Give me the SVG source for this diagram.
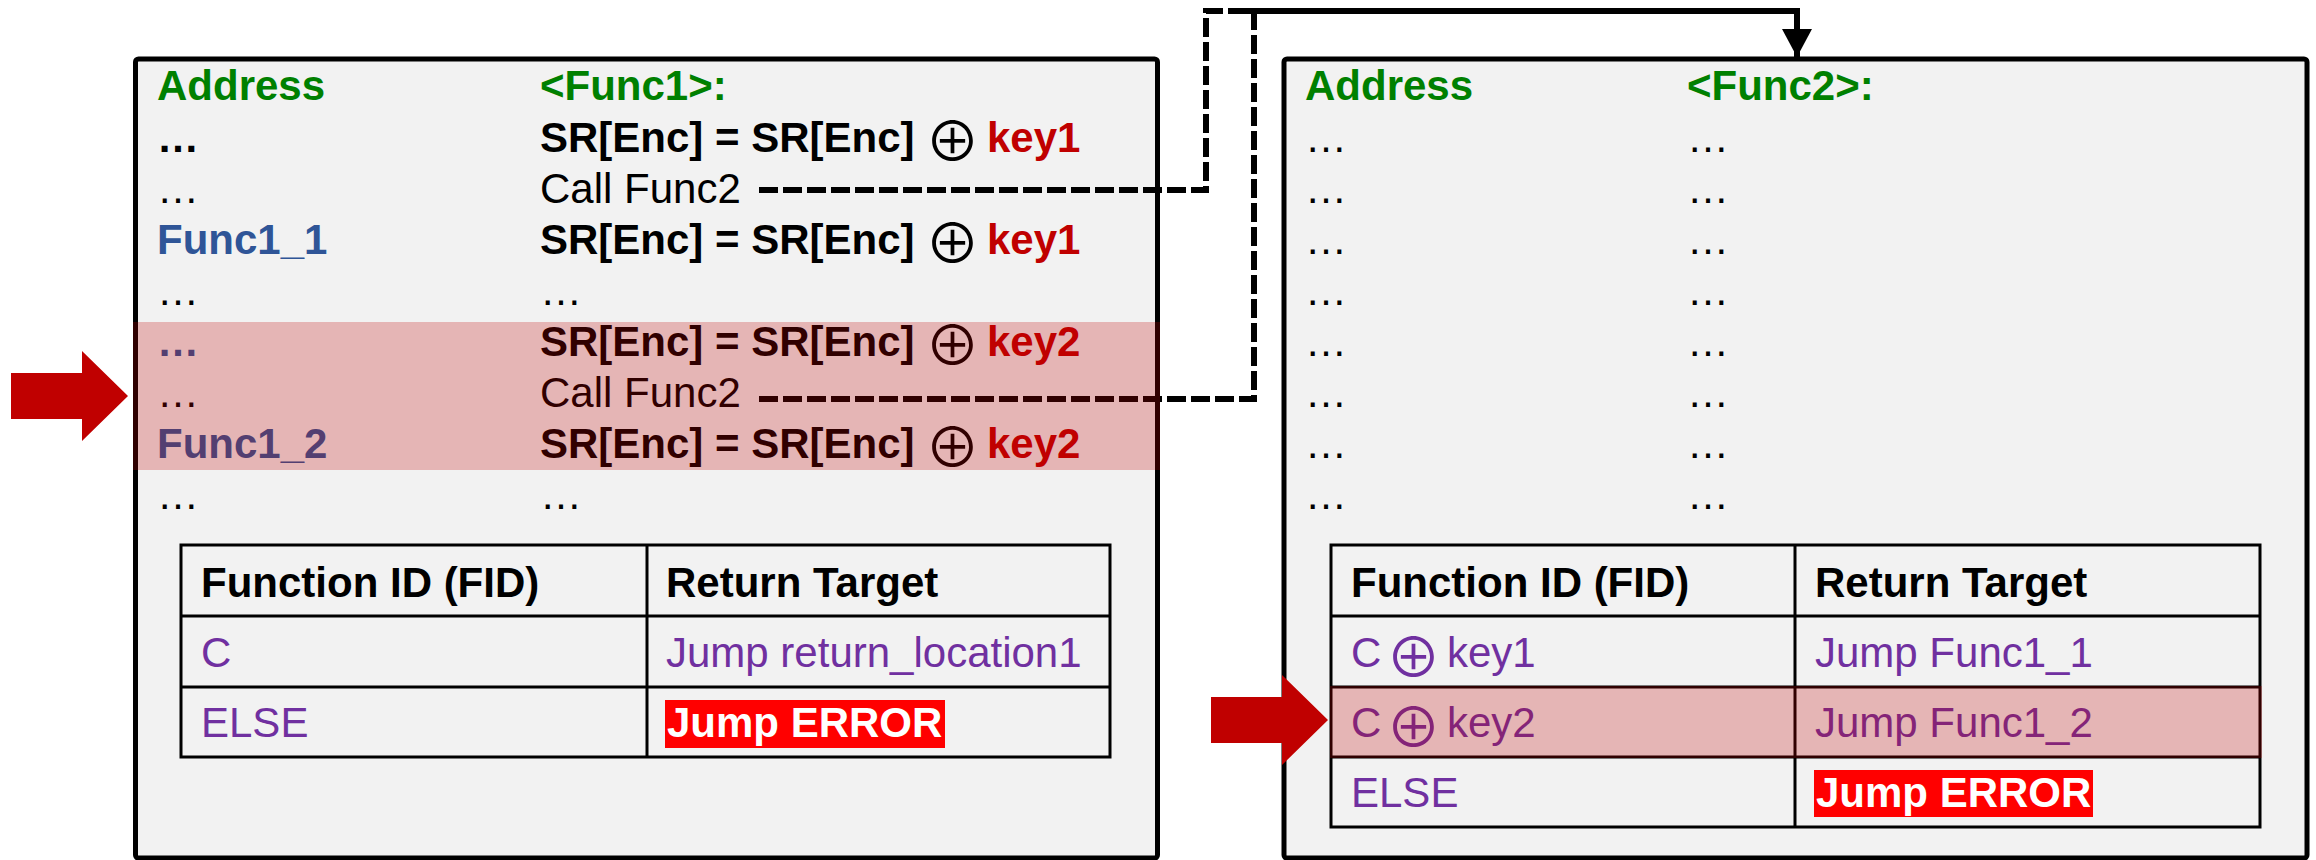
<svg xmlns="http://www.w3.org/2000/svg" width="2316" height="860" viewBox="0 0 2316 860">
<style>
.box{fill:#F2F2F2;stroke:#000;stroke-width:5}
.t{font-family:"Liberation Sans",Arial,sans-serif;font-size:42px;fill:#000}
.b{font-weight:bold}
.g{fill:#008000}
.k{fill:#C00000}
.bl{fill:#2F5597}
.p{fill:#7030A0}
.w{fill:#FFFFFF}
.op{font-family:"Noto Sans CJK JP","DejaVu Sans",sans-serif;font-size:55px;font-weight:normal}
.hl{fill:#C00000;fill-opacity:0.25}
.tl{stroke:#000;stroke-width:3;fill:none}
.dash{stroke:#000;stroke-width:6;fill:none;stroke-dasharray:19 5}
.solid{stroke:#000;stroke-width:6;fill:none}
.err{fill:#FF0000}
.arrow{fill:#C00000}
</style>
<defs>
<marker id="ah" viewBox="0 0 28 30" refX="28" refY="15" markerWidth="28" markerHeight="30" markerUnits="userSpaceOnUse" orient="auto">
<path d="M0,0 L28,15 L0,30 z" fill="#000"/>
</marker>
</defs>
<rect width="2316" height="860" fill="#FFFFFF"/>

<g id="func1">
<rect class="box" x="135.5" y="59" width="1022" height="799" rx="3"/>
<text class="t b g" x="157" y="100">Address</text>
<text class="t b g" x="540" y="100">&lt;Func1&gt;:</text>
<text class="t b" x="157" y="152">…</text>
<text class="t b" x="540" y="152">SR[Enc] = SR[Enc]</text>
<text class="op" x="925" y="161">⊕</text>
<text class="t b k" x="987" y="152">key1</text>
<text class="t" x="157" y="203">…</text>
<text class="t" x="540" y="203">Call Func2</text>
<text class="t b bl" x="157" y="254">Func1_1</text>
<text class="t b" x="540" y="254">SR[Enc] = SR[Enc]</text>
<text class="op" x="925" y="263">⊕</text>
<text class="t b k" x="987" y="254">key1</text>
<text class="t" x="157" y="305">…</text>
<text class="t" x="540" y="305">…</text>
<text class="t b bl" x="157" y="356">…</text>
<text class="t b" x="540" y="356">SR[Enc] = SR[Enc]</text>
<text class="op" x="925" y="365">⊕</text>
<text class="t b k" x="987" y="356">key2</text>
<text class="t" x="157" y="407">…</text>
<text class="t" x="540" y="407">Call Func2</text>
<text class="t b bl" x="157" y="458">Func1_2</text>
<text class="t b" x="540" y="458">SR[Enc] = SR[Enc]</text>
<text class="op" x="925" y="467">⊕</text>
<text class="t b k" x="987" y="458">key2</text>
<text class="t" x="157" y="509">…</text>
<text class="t" x="540" y="509">…</text>
</g>

<g id="table1">
<rect x="181" y="545" width="929" height="212" class="tl"/>
<line class="tl" x1="181" y1="616" x2="1110" y2="616"/>
<line class="tl" x1="181" y1="687" x2="1110" y2="687"/>
<line class="tl" x1="647" y1="545" x2="647" y2="757"/>
<text class="t b" x="201" y="597">Function ID (FID)</text>
<text class="t b" x="666" y="597">Return Target</text>
<text class="t p" x="201" y="667">C</text>
<text class="t p" x="666" y="667">Jump return_location1</text>
<text class="t p" x="201" y="737">ELSE</text>
<rect class="err" x="665" y="700" width="280" height="48"/>
<text class="t b w" x="667" y="737">Jump ERROR</text>
</g>

<g id="func2">
<rect class="box" x="1284" y="59" width="1023" height="799" rx="3"/>
<text class="t b g" x="1305" y="100">Address</text>
<text class="t b g" x="1687" y="100">&lt;Func2&gt;:</text>
<text class="t" x="1305" y="152">…</text><text class="t" x="1687" y="152">…</text>
<text class="t" x="1305" y="203">…</text><text class="t" x="1687" y="203">…</text>
<text class="t" x="1305" y="254">…</text><text class="t" x="1687" y="254">…</text>
<text class="t" x="1305" y="305">…</text><text class="t" x="1687" y="305">…</text>
<text class="t" x="1305" y="356">…</text><text class="t" x="1687" y="356">…</text>
<text class="t" x="1305" y="407">…</text><text class="t" x="1687" y="407">…</text>
<text class="t" x="1305" y="458">…</text><text class="t" x="1687" y="458">…</text>
<text class="t" x="1305" y="509">…</text><text class="t" x="1687" y="509">…</text>
</g>

<g id="table2">
<rect x="1331" y="545" width="929" height="282" class="tl"/>
<line class="tl" x1="1331" y1="616" x2="2260" y2="616"/>
<line class="tl" x1="1331" y1="687" x2="2260" y2="687"/>
<line class="tl" x1="1331" y1="757" x2="2260" y2="757"/>
<line class="tl" x1="1795" y1="545" x2="1795" y2="827"/>
<text class="t b" x="1351" y="597">Function ID (FID)</text>
<text class="t b" x="1815" y="597">Return Target</text>
<text class="t p" x="1351" y="667">C</text>
<text class="op p" x="1386" y="677">⊕</text>
<text class="t p" x="1447" y="667">key1</text>
<text class="t p" x="1815" y="667">Jump Func1_1</text>
<text class="t p" x="1351" y="737">C</text>
<text class="op p" x="1386" y="747">⊕</text>
<text class="t p" x="1447" y="737">key2</text>
<text class="t p" x="1815" y="737">Jump Func1_2</text>
<text class="t p" x="1351" y="807">ELSE</text>
<rect class="err" x="1814" y="770" width="279" height="47"/>
<text class="t b w" x="1816" y="807">Jump ERROR</text>
</g>

<g id="connectors">
<path class="dash" d="M759,190 H1206 V11 H1254"/>
<path class="dash" d="M759,399 H1254 V11"/>
<path class="solid" d="M1237,11 H1797 V57" marker-end="url(#ah)"/>
</g>

<g id="highlights">
<rect class="hl" x="133" y="322" width="1027" height="148"/>
<rect class="hl" x="1330" y="686" width="932" height="72"/>
</g>

<g id="pointers">
<polygon class="arrow" points="11,373 82,373 82,351 128,396 82,441 82,419 11,419"/>
<polygon class="arrow" points="1211,697 1282,697 1282,675 1328,720 1282,765 1282,743 1211,743"/>
</g>
</svg>
